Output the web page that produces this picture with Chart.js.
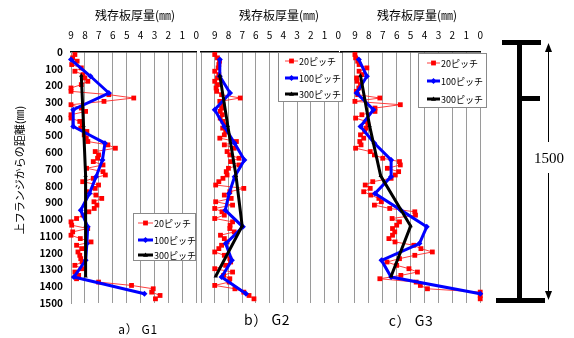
<!DOCTYPE html>
<html>
<head>
<meta charset="utf-8">
<script src="https://cdn.jsdelivr.net/npm/chart.js@4/dist/chart.umd.min.js"></script>
<style>
  html, body { margin: 0; padding: 0; background: #fff; }
  #wrap { position: relative; width: 574px; height: 338px; overflow: hidden; font-family: "Noto Sans CJK JP", sans-serif; }
  #wrap canvas { position: absolute; top: 0; }
  .cap { position: absolute; color: #000; line-height: 1; transform: translate(-50%, -50%); white-space: nowrap; letter-spacing: 0.6px; }
  #beam { position: absolute; left: 0; top: 0; }
</style>
</head>
<body>
<div id="wrap">
  <canvas id="g1" width="210" height="338" style="left:0px"></canvas>
  <canvas id="g2" width="162" height="338" style="left:190px"></canvas>
  <canvas id="g3" width="164" height="338" style="left:330px"></canvas>
  <div class="cap" id="cap1" style="left:138px;top:329px;font-size:12px"></div>
  <div class="cap" id="cap2" style="left:267px;top:319px;font-size:14px"></div>
  <div class="cap" id="cap3" style="left:411px;top:320px;font-size:14px"></div>
  <svg id="beam" width="574" height="338">
    <rect x="502" y="40" width="39" height="5" fill="#000"/>
    <rect x="517" y="40" width="5" height="263" fill="#000"/>
    <rect x="522" y="96" width="18" height="5" fill="#000"/>
    <rect x="496" y="298" width="49" height="5" fill="#000"/>
    <line x1="548.5" y1="50" x2="548.5" y2="142" stroke="#000" stroke-width="1"/>
    <line x1="548.5" y1="173" x2="548.5" y2="292" stroke="#000" stroke-width="1"/>
    <polygon points="548.5,43 545,52 552,52" fill="#000"/>
    <polygon points="548.5,300 545,291 552,291" fill="#000"/>
    <text x="549" y="163" font-family="Liberation Serif, DejaVu Serif, serif" font-size="15" text-anchor="middle">1500</text>
  </svg>
</div>
<script>
// Depth from the top flange (mm) at which each series was measured
const depth20 = [15,35,55,75,95,115,135,155,175,195,215,235,255,275,295,315,335,355,375,395,
  415,435,455,475,495,515,535,555,575,595,615,635,655,675,695,715,735,755,775,795,
  815,835,855,875,895,915,935,955,975,995,1015,1035,1055,1075,1095,1115,1135,1155,1175,1195,
  1215,1235,1255,1275,1295,1315,1335,1355,1375,1395,1415,1435,1455,1475];
const depth100 = [45,145,245,345,445,545,645,745,845,945,1045,1145,1245,1345,1445];
const depth300 = [140,440,740,1040,1340];

// Remaining plate thickness (mm), girder G1
const g1Pitch20 = [8.72,8.88,8.56,8.95,8.26,8.72,8.14,8.0,7.79,8.26,
  9.0,9.0,6.28,4.49,6.63,9.0,8.26,7.95,9.0,9.0,
  8.37,8.19,8.3,7.86,8.05,7.9,7.79,6.35,5.81,7.26,
  7.02,7.09,7.4,6.7,7.88,6.7,6.53,7.4,8.16,7.02,
  7.26,7.86,7.21,6.79,7.35,7.14,7.33,7.72,8.14,8.6,
  9.0,8.95,7.8,8.88,9.0,8.33,7.56,8.6,8.23,8.5,
  8.37,8.3,8.2,8.72,8.2,8.72,8.45,8.6,7.02,4.65,
  3.09,3.2,2.6,2.93];
const g1Pitch100 = [9.0,7.6,6.28,8.84,8.84,6.56,6.74,7.2,7.67,8.3,7.8,7.86,7.95,8.79,3.72];
const g1Pitch300 = [8.26,8.1,7.95,7.95,7.95];

// Girder G2
const g2Pitch20 = [9.0,8.8,8.65,8.7,8.75,9.0,8.7,8.8,9.0,8.8,
  8.9,8.86,8.5,7.14,8.63,8.4,8.5,8.6,8.45,8.6,
  8.4,8.3,8.42,8.2,8.3,8.63,7.42,8.3,7.58,8.1,
  7.9,7.23,7.84,7.23,8.0,8.16,8.1,8.4,8.7,8.93,
  6.88,7.9,8.3,7.8,8.93,7.7,9.0,8.47,8.3,9.0,
  7.7,7.88,7.9,7.58,8.58,8.3,8.1,8.5,8.7,9.0,
  8.3,7.9,7.84,8.2,9.0,7.7,8.35,7.9,7.95,9.0,
  7.53,6.88,6.5,6.14];
const g2Pitch100 = [8.63,8.63,7.88,9.0,8.3,7.55,6.84,7.55,7.95,8.23,6.95,8.2,7.75,8.5,6.72];
const g2Pitch300 = [8.63,8.05,7.45,7.0,8.93];

// Girder G3
const g3Pitch20 = [9.0,8.95,8.8,8.7,8.14,8.7,8.49,8.88,8.85,8.6,
  8.72,8.9,8.8,7.21,9.0,5.74,7.56,7.56,8.5,8.95,
  8.19,8.07,8.2,8.3,8.6,8.37,8.65,8.56,8.95,7.9,
  7.6,7.0,5.8,5.74,6.67,5.86,6.1,6.4,7.72,8.26,
  7.9,8.37,7.86,7.28,7.1,7.6,6.5,4.7,4.65,6.33,
  5.8,6.0,6.3,6.14,6.3,6.56,6.12,4.77,4.26,3.44,
  4.7,5.8,6.7,6.0,5.12,4.51,5.7,7.21,4.6,4.3,
  3.79,0,0,0];
const g3Pitch100 = [8.72,8.14,8.88,7.67,8.6,7.6,6.4,6.4,7.56,5.7,3.84,4.37,7.09,6.4,0];
const g3Pitch300 = [8.6,7.95,7.15,5.0,6.4];

const seriesNames = ['20ピッチ', '100ピッチ', '300ピッチ'];
const xAxisTitle = '残存板厚量(㎜)';
const yAxisTitle = '上フランジからの距離(㎜)';
const panelCaptions = ['a） G1', 'b） G2', 'c） G3'];

const FONT = '"Noto Sans CJK JP", sans-serif';
Chart.defaults.font.family = FONT;
Chart.defaults.color = '#000';

function toPoints(values, depths) {
  return values.map((v, i) => ({ x: v, y: depths[i] }));
}

function drawMarker(ctx, style, x, y, r, color) {
  ctx.fillStyle = color;
  ctx.beginPath();
  if (style === 'rect') {
    const s = r * Math.SQRT1_2;
    ctx.rect(x - s, y - s, 2 * s, 2 * s);
  } else if (style === 'rectRot') {
    ctx.moveTo(x, y - r); ctx.lineTo(x + r, y); ctx.lineTo(x, y + r); ctx.lineTo(x - r, y);
    ctx.closePath();
  } else {
    ctx.moveTo(x, y - r); ctx.lineTo(x + r, y + r * 0.7); ctx.lineTo(x - r, y + r * 0.7);
    ctx.closePath();
  }
  ctx.fill();
}

// Boxed legend placed inside the plot, plus the axis titles
const panelDecor = {
  id: 'panelDecor',
  afterDraw(chart, args, opts) {
    const ctx = chart.ctx;
    ctx.save();
    if (opts.xTitle) {
      ctx.font = '12px ' + FONT;
      ctx.fillStyle = '#000';
      ctx.textAlign = 'center';
      ctx.textBaseline = 'middle';
      ctx.fillText(opts.xTitle.text, opts.xTitle.x, opts.xTitle.y);
    }
    if (opts.yTitle) {
      ctx.save();
      ctx.translate(opts.yTitle.x, opts.yTitle.y);
      ctx.rotate(-Math.PI / 2);
      ctx.font = '11px ' + FONT;
      ctx.fillStyle = '#000';
      ctx.textAlign = 'center';
      ctx.textBaseline = 'middle';
      ctx.fillText(opts.yTitle.text, 0, 0);
      ctx.restore();
    }
    const b = opts.box;
    if (b) {
      ctx.fillStyle = '#fff';
      ctx.fillRect(b.x, b.y, b.w, b.h);
      ctx.strokeStyle = '#8a8a8a';
      ctx.lineWidth = 1;
      ctx.strokeRect(b.x + 0.5, b.y + 0.5, b.w, b.h);
      ctx.font = '9px ' + FONT;
      ctx.textAlign = 'left';
      ctx.textBaseline = 'middle';
      chart.data.datasets.forEach((ds, i) => {
        const y = b.y + b.rows[i];
        const x0 = b.x + b.lineX, x1 = x0 + b.lineW;
        ctx.strokeStyle = ds.borderColor;
        ctx.lineWidth = ds.borderWidth;
        ctx.beginPath(); ctx.moveTo(x0, y); ctx.lineTo(x1, y); ctx.stroke();
        drawMarker(ctx, ds.pointStyle, (x0 + x1) / 2, y, ds.pointRadius, ds.pointBackgroundColor);
        ctx.fillStyle = '#000';
        ctx.fillText(ds.label, x1 + 1, y + 0.5);
      });
    }
    ctx.restore();
  }
};

function makePanel(id, cfg) {
  const yScale = {
    type: 'linear', reverse: true, min: 0, max: 1500, display: cfg.showY,
    ticks: { stepSize: 100, autoSkip: false, padding: 8,
             font: { size: 10, weight: 'bold' }, color: '#000',
             callback: v => String(v) },
    grid: { display: false, drawTicks: false },
    border: { color: '#9a9a9a', width: 1 }
  };
  if (cfg.showY) yScale.afterFit = s => { s.width = 71; };
  return new Chart(document.getElementById(id), {
    type: 'scatter',
    data: {
      datasets: [
        { label: seriesNames[0], data: toPoints(cfg.t20, depth20), showLine: true,
          borderColor: 'rgba(255,30,30,0.85)', borderWidth: 1,
          pointStyle: 'rect', pointRadius: 3.4, pointBackgroundColor: '#ff0000',
          pointBorderColor: '#ff0000', pointBorderWidth: 0, clip: false, order: 3 },
        { label: seriesNames[1], data: toPoints(cfg.t100, depth100), showLine: true,
          borderColor: '#0000ff', borderWidth: 3,
          pointStyle: 'rectRot', pointRadius: 3, pointBackgroundColor: '#0000ff',
          pointBorderColor: '#0000ff', pointBorderWidth: 0, clip: false, order: 2 },
        { label: seriesNames[2], data: toPoints(cfg.t300, depth300), showLine: true,
          borderColor: '#000000', borderWidth: 3,
          pointStyle: 'triangle', pointRadius: 2.5, pointBackgroundColor: '#000000',
          pointBorderColor: '#000000', pointBorderWidth: 0, clip: false, order: 1 }
      ]
    },
    options: {
      responsive: false,
      animation: false,
      events: [],
      layout: { padding: { left: cfg.padLeft, right: cfg.padRight, top: 0, bottom: 35 } },
      plugins: {
        legend: { display: false },
        tooltip: { enabled: false },
        panelDecor: cfg.decor
      },
      scales: {
        x: {
          type: 'linear', position: 'top', reverse: true, min: 0, max: cfg.xMax,
          afterFit(s) { s.height = 52; },
          ticks: { stepSize: 1, autoSkip: false, maxRotation: 0, padding: 11,
                   font: { size: 10 }, color: '#000',
                   callback: v => (v > 9 ? '' : String(v)) },
          grid: { drawTicks: false, lineWidth: 1,
                  color: c => (cfg.hideEdge && c.tick && c.tick.value === 10 ? 'rgba(0,0,0,0)' : '#9a9a9a') },
          border: { color: '#000', width: 1.5 }
        },
        y: yScale
      }
    },
    plugins: [panelDecor]
  });
}

makePanel('g1', {
  t20: g1Pitch20, t100: g1Pitch100, t300: g1Pitch300,
  xMax: 9, showY: true, padLeft: 0, padRight: 10, hideEdge: false,
  decor: {
    xTitle: { text: xAxisTitle, x: 135, y: 15 },
    yTitle: { text: yAxisTitle, x: 20, y: 170 },
    box: { x: 133, y: 213, w: 62, h: 47, rows: [10, 27, 42], lineX: 5, lineW: 15 }
  }
});

makePanel('g2', {
  t20: g2Pitch20, t100: g2Pitch100, t300: g2Pitch300,
  xMax: 10, showY: false, padLeft: 10, padRight: 9, hideEdge: false,
  decor: {
    xTitle: { text: xAxisTitle, x: 89, y: 15 },
    box: { x: 88, y: 52, w: 64, h: 49, rows: [9, 26, 42], lineX: 7, lineW: 13 }
  }
});

makePanel('g3', {
  t20: g3Pitch20, t100: g3Pitch100, t300: g3Pitch300,
  xMax: 10, showY: false, padLeft: 10, padRight: 10, hideEdge: true,
  decor: {
    xTitle: { text: xAxisTitle, x: 87, y: 15 },
    box: { x: 88, y: 53, w: 68, h: 54, rows: [10, 28, 46], lineX: 9, lineW: 13 }
  }
});

document.getElementById('cap1').textContent = panelCaptions[0];
document.getElementById('cap2').textContent = panelCaptions[1];
document.getElementById('cap3').textContent = panelCaptions[2];
</script>
</body>
</html>
